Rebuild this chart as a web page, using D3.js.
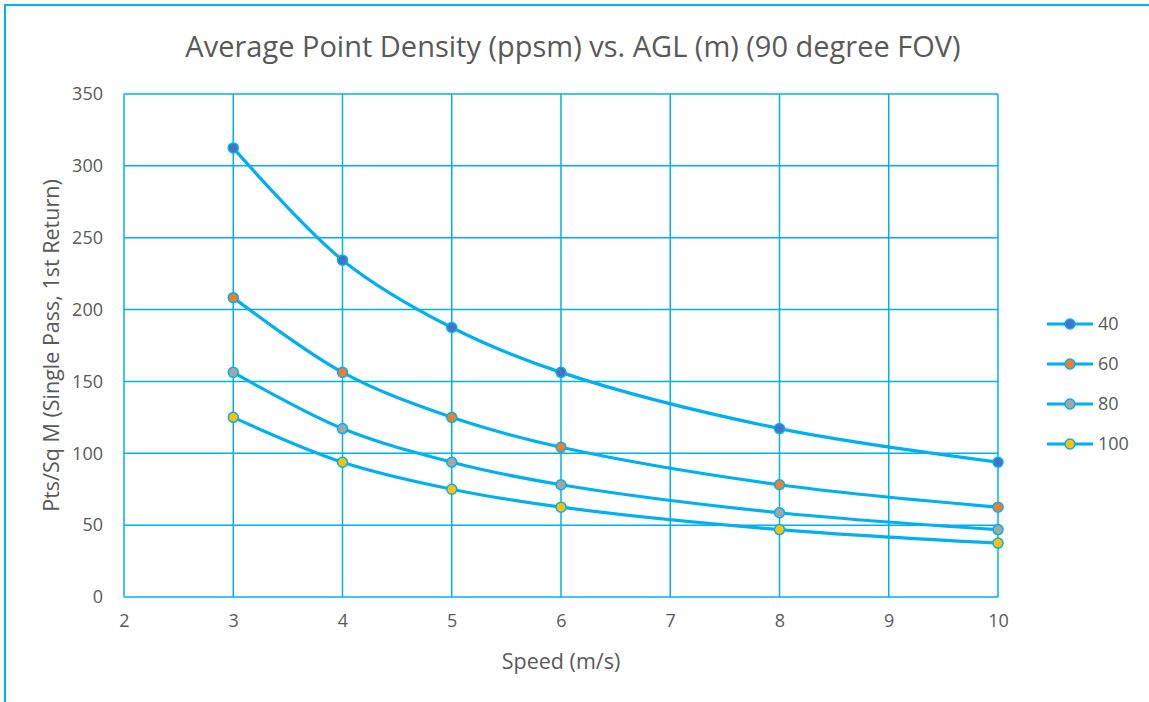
<!DOCTYPE html>
<html>
<head>
<meta charset="utf-8">
<script src="https://cdn.jsdelivr.net/npm/d3@7"></script>
<style>
  body { margin: 0; background: #fff; }
  svg { display: block; font-family: "Open Sans", sans-serif; }
</style>
</head>
<body>
<svg width="1149" height="702"></svg>
<script>
// data
var speeds = [3, 4, 5, 6, 8, 10];
var agl40 = [312.5, 234.4, 187.5, 156.3, 117.2, 93.8];
var agl60 = [208.3, 156.3, 125, 104.2, 78.1, 62.5];
var agl80 = [156.3, 117.2, 93.8, 78.1, 58.6, 46.9];
var agl100 = [125, 93.8, 75, 62.5, 46.9, 37.5];
var seriesNames = ['40', '60', '80', '100'];
var markerColors = ['#4472C4', '#ED7D31', '#A5A5A5', '#FFC000'];
var xTicks = [2, 3, 4, 5, 6, 7, 8, 9, 10];
var yTicks = [0, 50, 100, 150, 200, 250, 300, 350];

var blue = '#00B0F0';
var textCol = '#595959';

var series = [agl40, agl60, agl80, agl100].map(function(vals, i) {
  return {
    name: seriesNames[i],
    color: markerColors[i],
    points: vals.map(function(v, j) { return {x: speeds[j], y: v}; })
  };
});

var margin = {top: 94, left: 124};
var width = 998 - 124;
var height = 597 - 94;

var svg = d3.select('svg');

// outer chart border
svg.append('rect')
    .attr('x', 5).attr('y', 5)
    .attr('width', 1160).attr('height', 720)
    .attr('fill', 'none')
    .attr('stroke', blue)
    .attr('stroke-width', 2);

var xScale = d3.scaleLinear().domain([2, 10]).range([0, width]);
var yScale = d3.scaleLinear().domain([0, 350]).range([height, 0]);

var g = svg.append('g')
    .attr('transform', 'translate(' + margin.left + ',' + margin.top + ')');

// gridlines
g.append('g')
  .selectAll('line')
  .data(yTicks)
  .enter()
  .append('line')
    .attr('x1', 0).attr('x2', width)
    .attr('y1', d => yScale(d)).attr('y2', d => yScale(d))
    .attr('stroke', blue).attr('stroke-width', 1.5);

g.append('g')
  .selectAll('line')
  .data(xTicks)
  .enter()
  .append('line')
    .attr('x1', d => xScale(d)).attr('x2', d => xScale(d))
    .attr('y1', 0).attr('y2', height)
    .attr('stroke', blue).attr('stroke-width', 1.5);

// axes (labels only)
var xAxis = d3.axisBottom(xScale).tickValues(xTicks).tickSize(0).tickPadding(17);
var yAxis = d3.axisLeft(yScale).tickValues(yTicks).tickSize(0).tickPadding(21);

g.append('g')
    .attr('transform', 'translate(0,' + height + ')')
    .call(xAxis)
    .call(a => a.select('.domain').remove())
    .selectAll('text')
      .attr('fill', textCol)
      .style('font-family', '"Open Sans", sans-serif')
      .style('font-size', '18px');

g.append('g')
    .call(yAxis)
    .call(a => a.select('.domain').remove())
    .selectAll('text')
      .attr('fill', textCol)
      .style('font-family', '"Open Sans", sans-serif')
      .style('font-size', '18px');

// lines
var line = d3.line()
    .x(d => xScale(d.x))
    .y(d => yScale(d.y))
    .curve(d3.curveCatmullRom.alpha(0.5));

g.append('g')
  .selectAll('path')
  .data(series)
  .enter()
  .append('path')
    .attr('d', d => line(d.points))
    .attr('fill', 'none')
    .attr('stroke', blue)
    .attr('stroke-width', 3.2);

// markers
series.forEach(function(s) {
  g.append('g')
    .selectAll('circle')
    .data(s.points)
    .enter()
    .append('circle')
      .attr('cx', d => xScale(d.x))
      .attr('cy', d => yScale(d.y))
      .attr('r', 5)
      .attr('fill', s.color)
      .attr('stroke', blue)
      .attr('stroke-width', 1.5);
});

// title
svg.append('text')
    .attr('x', 573)
    .attr('y', 57)
    .attr('text-anchor', 'middle')
    .attr('fill', textCol)
    .style('font-size', '29px')
    .text('Average Point Density (ppsm) vs. AGL (m) (90 degree FOV)');

// axis titles
svg.append('text')
    .attr('x', margin.left + width / 2)
    .attr('y', 669)
    .attr('text-anchor', 'middle')
    .attr('fill', textCol)
    .style('font-size', '21.5px')
    .text('Speed (m/s)');

svg.append('text')
    .attr('transform', 'translate(59,' + (margin.top + height / 2) + ') rotate(-90)')
    .attr('text-anchor', 'middle')
    .attr('fill', textCol)
    .style('font-size', '21.5px')
    .text('Pts/Sq M (Single Pass, 1st Return)');

// legend
var legend = svg.append('g')
  .selectAll('g')
  .data(series)
  .enter()
  .append('g')
    .attr('transform', (d, i) => 'translate(1047,' + (324 + i * 40) + ')');

legend.append('line')
    .attr('x1', 0).attr('x2', 46)
    .attr('stroke', blue).attr('stroke-width', 3.2);

legend.append('circle')
    .attr('cx', 23).attr('r', 5)
    .attr('fill', d => d.color)
    .attr('stroke', blue).attr('stroke-width', 1.5);

legend.append('text')
    .attr('x', 51).attr('dy', '0.35em')
    .attr('fill', textCol)
    .style('font-size', '18px')
    .text(d => d.name);
</script>
</body>
</html>
